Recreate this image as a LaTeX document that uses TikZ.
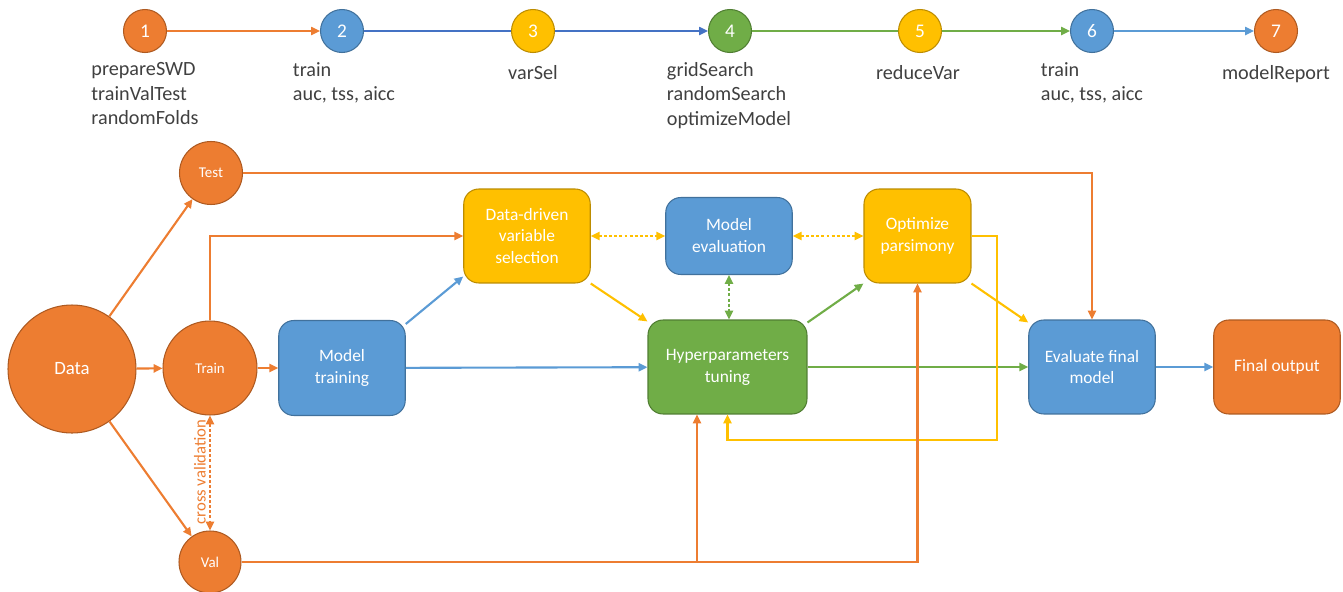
\documentclass[tikz,border=0pt]{standalone}
\usepackage{fontspec}
\setmainfont{Carlito}
\usetikzlibrary{arrows.meta}

\definecolor{orng}{HTML}{ED7D31}
\definecolor{orngdark}{HTML}{AE5A21}
\definecolor{blu}{HTML}{5B9BD5}
\definecolor{bludark}{HTML}{41719C}
\definecolor{bluline}{HTML}{4472C4}
\definecolor{yel}{HTML}{FFC000}
\definecolor{yeldark}{HTML}{BC8C00}
\definecolor{grn}{HTML}{70AD47}
\definecolor{grndark}{HTML}{507E32}
\definecolor{labelgray}{HTML}{404040}

\tikzset{
  stepnode/.style={circle, draw=#1dark, fill=#1, line width=0.6pt, minimum size=0.86cm, inner sep=0pt, text=white, font=\fontsize{11}{13}\selectfont},
  steplabel/.style={anchor=north, align=left, inner sep=0pt, text=labelgray, font=\fontsize{11.5}{14}\selectfont, execute at begin node=\strut},
  ball/.style={circle, draw=orngdark, fill=orng, line width=0.6pt, inner sep=0pt, text=white, font=\fontsize{8.5}{10}\selectfont},
  block/.style={rectangle, rounded corners=0.3cm, draw=#1dark, fill=#1, line width=0.6pt, inner sep=0pt, text=white, align=center, minimum width=2.53cm, minimum height=1.88cm, font=\fontsize{9.9}{12.5}\selectfont},
  steplink/.style={draw=#1, line width=0.9pt, -{Triangle[length=5pt,width=4.6pt]}},
  link/.style={draw=#1, line width=1.2pt, -{Triangle[length=5pt,width=4.6pt]}},
  dotlink/.style={draw=#1, line width=1.2pt, dash pattern=on 1.7pt off 1.2pt, {Triangle[length=5pt,width=4.6pt]}-{Triangle[length=5pt,width=4.6pt]}}
}

\begin{document}
\begin{tikzpicture}[x=0.02cm, y=-0.02cm]
	\useasboundingbox (0,0) rectangle (1343,592);

	\node[stepnode=orng] (s1) at (145, 31) {1};
	\node[stepnode=blu]  (s2) at (342, 31) {2};
	\node[stepnode=yel]  (s3) at (533, 31) {3};
	\node[stepnode=grn]  (s4) at (730, 31) {4};
	\node[stepnode=yel]  (s5) at (920, 31) {5};
	\node[stepnode=blu]  (s6) at (1092, 31) {6};
	\node[stepnode=orng] (s7) at (1276, 31) {7};

	\node[steplabel] (l1) at (145, 62) {prepareSWD\\trainValTest\\randomFolds};
	\node[steplabel] (l2) at (344, 62) {train\\auc, tss, aicc};
	\node[steplabel] (l3) at (533, 62) {varSel};
	\node[steplabel] (l4) at (729, 62) {gridSearch\\randomSearch\\optimizeModel};
	\node[steplabel] (l5) at (918, 62) {reduceVar};
	\node[steplabel] (l6) at (1092, 62) {train\\auc, tss, aicc};
	\node[steplabel] (l7) at (1276, 62) {modelReport};

	\draw[steplink=orng] (s1) -- (s2);
	\draw[steplink=bluline, -] (s2) -- (s3);
	\draw[steplink=bluline] (s3) -- (s4);
	\draw[steplink=grn, -] (s4) -- (s5);
	\draw[steplink=grn] (s5) -- (s6);
	\draw[steplink=blu] (s6) -- (s7);

	\node[ball, minimum size=2.56cm, font=\fontsize{10.7}{12}\selectfont] (data) at (72, 369) {Data};
	\node[ball, minimum size=1.26cm] (test) at (211, 173) {Test};
	\node[ball, minimum size=1.88cm] (train) at (210, 368) {Train};
	\node[ball, minimum size=1.24cm] (val) at (210, 562) {Val};
	\node[rotate=90, inner sep=0pt, text=orng, font=\fontsize{9.5}{11}\selectfont] (cv) at (200, 472) {cross validation};

	\node[block=blu, minimum height=1.9cm] (mt) at (342, 368) {Model\\training};
	\node[block=yel] (dd) at (527, 236) {Data-driven\\variable\\selection};
	\node[block=blu, minimum height=1.54cm] (me) at (729, 236) {Model\\evaluation};
	\node[block=yel, minimum width=2.14cm] (op) at (917.5, 236) {Optimize\\parsimony};
	\node[block=grn, minimum width=3.18cm] (ht) at (727.5, 367) {Hyperparameters\\tuning};
	\node[block=blu] (ef) at (1092, 367) {Evaluate final\\model};
	\node[block=orng] (fo) at (1277, 367) {Final output};

	\coordinate (vh) at (697, 562);
	\coordinate (lp) at (997, 440);

	\draw[link=orng] (data) -- (test);
	\draw[link=orng] (data) -- (train);
	\draw[link=orng] (data) -- (val);
	\draw[link=orng] (test) -| (ef);
	\draw[link=orng] (train) |- (dd);
	\draw[link=orng] (train) -- (mt);
	\draw[dotlink=orng] (train) -- (val);

	\draw[link=blu] ([shift={(0,4)}]mt.north east) -- ([shift={(0,-7)}]dd.south west);
	\draw[link=blu] (mt) -- (ht);
	\draw[link=yel] (dd.south east) -- ([shift={(0,2)}]ht.north west);
	\draw[dotlink=yel] (dd) -- (me);
	\draw[dotlink=yel] (me) -- (op);
	\draw[dotlink=grn] (me) -- (me |- ht.north);
	\draw[link=grn] ([shift={(0,3)}]ht.north east) -- (op.south west);
	\draw[link=grn] (ht) -- (ef);
	\draw[link=yel] (op.south east) -- ([shift={(0,3)}]ef.north west);
	\draw[link=yel] (op.east) -| (lp) -| (ht.south);
	\draw[link=blu] (ef) -- (fo);

	\draw[link=orng] (val) -| (op);
	\draw[link=orng] (vh) -- (vh |- ht.south);
\end{tikzpicture}
\end{document}
